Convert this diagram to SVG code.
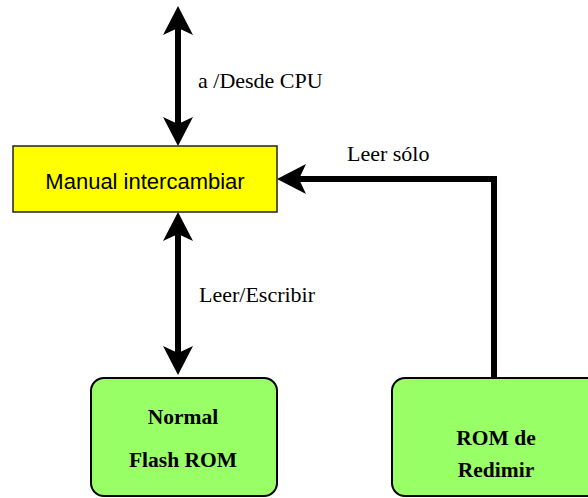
<svg xmlns="http://www.w3.org/2000/svg" width="588" height="498" viewBox="0 0 588 498">
<style>
.conn{fill:none;stroke:#000;stroke-width:6;stroke-linejoin:miter}
.lbl{font-family:"Liberation Serif","Times New Roman",serif;font-size:22px;fill:#000}
.bold{font-family:"Liberation Serif","Times New Roman",serif;font-size:21.5px;font-weight:bold;fill:#000;text-anchor:middle}
.green{fill:#99ff66;stroke:#000;stroke-width:2}
</style>
<defs>
<marker id="ah" viewBox="-8 -16 31 32" markerWidth="31" markerHeight="32" refX="0" refY="0" orient="auto-start-reverse" markerUnits="userSpaceOnUse">
<path d="M22,0 L-7,-15 L0,0 L-7,15 Z" fill="#000"/>
</marker>
</defs>
<rect width="588" height="498" fill="#fff"/>
<g id="connectors">
<line class="conn" x1="178" y1="28" x2="178" y2="124" marker-start="url(#ah)" marker-end="url(#ah)"/>
<line class="conn" x1="178" y1="234" x2="178" y2="353" marker-start="url(#ah)" marker-end="url(#ah)"/>
<polyline class="conn" points="494,378 494,179 299,179" marker-end="url(#ah)"/>
<text class="lbl" x="198" y="88">a /Desde CPU</text>
<text class="lbl" x="199" y="302">Leer/Escribir</text>
<text class="lbl" x="347" y="161">Leer sólo</text>
</g>
<g id="manual">
<rect x="13" y="146" width="264" height="66" fill="#ffff00" stroke="#222" stroke-width="1.5"/>
<text x="145" y="189" font-family="'Liberation Sans',Arial,sans-serif" font-size="22" text-anchor="middle" fill="#000">Manual intercambiar</text>
</g>
<g id="normal-flash">
<rect class="green" x="91" y="378" width="186" height="118" rx="13"/>
<text class="bold" x="183" y="424">Normal</text>
<text class="bold" x="183" y="467">Flash ROM</text>
</g>
<g id="rom-redimir">
<rect class="green" x="392" y="378" width="208" height="118" rx="13"/>
<text class="bold" x="496" y="445">ROM de</text>
<text class="bold" x="496" y="477">Redimir</text>
</g>
</svg>
